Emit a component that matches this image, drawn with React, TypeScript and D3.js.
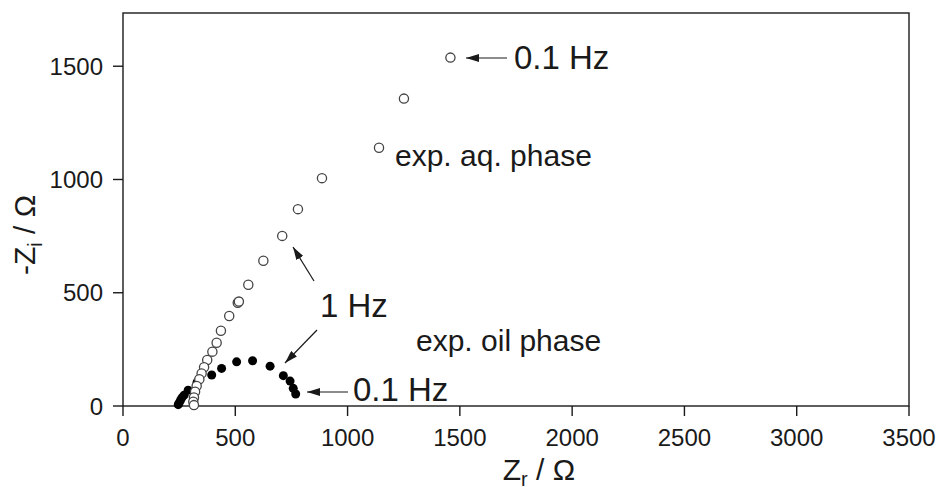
import React from 'react';
import * as d3 from 'd3';

const xTicks = [0, 500, 1000, 1500, 2000, 2500, 3000, 3500];
const yTicks = [0, 500, 1000, 1500];

// experimental aqueous phase (open circles)
const aqZr = [1458, 1251, 1140, 886, 779, 709, 625, 558, 511, 516, 473, 436, 417, 398, 375, 361, 350, 340, 328, 321, 316, 313, 316];
const aqZi = [1538, 1357, 1140, 1006, 869, 751, 641, 535, 456, 461, 397, 332, 279, 240, 203, 171, 144, 118, 88, 63, 38, 19, 4];

// experimental oil phase (filled circles)
const oilZr = [246, 250, 256, 262, 272, 290, 330, 395, 439, 506, 577, 655, 714, 744, 758, 769];
const oilZi = [6, 14, 25, 36, 48, 70, 105, 137, 166, 195, 200, 176, 134, 110, 78, 53];

const W = 939;
const H = 487;
const X0 = 123, X1 = 909, Y0 = 406, Y1 = 13;
const FONT = '"Liberation Sans", Arial, Helvetica, sans-serif';

export default function App() {
  const x = d3.scaleLinear().domain([0, 3500]).range([X0, X1]);
  const y = d3.scaleLinear().domain([0, 1735]).range([Y0, Y1]);
  const aq = aqZr.map((v, i) => [v, aqZi[i]]);
  const oil = oilZr.map((v, i) => [v, oilZi[i]]);
  const ink = '#1a1a1a';

  return (
    <svg width={W} height={H} style={{ position: 'absolute', left: 0, top: 0, background: '#fff' }} fontFamily={FONT}>
      <defs>
        <marker id="ah" markerWidth={13} markerHeight={8} refX={13} refY={4} orient="auto" markerUnits="userSpaceOnUse">
          <path d="M0,0 L13,4 L0,8 Z" fill={ink} />
        </marker>
      </defs>
      <rect x={0} y={0} width={W} height={H} fill="#fff" />
      {/* frame */}
      <rect x={X0} y={Y1} width={X1 - X0} height={Y0 - Y1} fill="none" stroke={ink} strokeWidth={1.4} />
      {/* x ticks */}
      {xTicks.map((t) => (
        <g key={'x' + t}>
          <line x1={x(t)} x2={x(t)} y1={Y0} y2={Y0 + 10} stroke={ink} strokeWidth={1.4} />
          <text x={x(t)} y={446} textAnchor="middle" fontSize={24} fill={ink}>{t}</text>
        </g>
      ))}
      {/* y ticks */}
      {yTicks.map((t) => (
        <g key={'y' + t}>
          <line x1={X0 - 10} x2={X0} y1={y(t)} y2={y(t)} stroke={ink} strokeWidth={1.4} />
          <text x={103} y={y(t) + 8.5} textAnchor="end" fontSize={24} fill={ink}>{t}</text>
        </g>
      ))}
      {/* axis titles */}
      <text x={539} y={480} textAnchor="middle" fontSize={30} fill={ink}>
        Z<tspan fontSize={20} dy={6}>r</tspan><tspan dy={-6}> / Ω</tspan>
      </text>
      <text transform="translate(35,235) rotate(-90)" textAnchor="middle" fontSize={30} fill={ink}>
        -Z<tspan fontSize={20} dy={7}>i</tspan><tspan dy={-7}> / Ω</tspan>
      </text>
      {/* oil phase: filled */}
      {oil.map((d, i) => (
        <circle key={'o' + i} cx={x(d[0])} cy={y(d[1])} r={4.5} fill="#000" />
      ))}
      {/* aqueous phase: open */}
      {aq.map((d, i) => (
        <circle key={'a' + i} cx={x(d[0])} cy={y(d[1])} r={4.6} fill="#fff" stroke="#444" strokeWidth={1.3} />
      ))}
      {/* annotations */}
      <line x1={507} y1={58} x2={466} y2={58} stroke={ink} strokeWidth={1.2} markerEnd="url(#ah)" />
      <text x={514} y={69} fontSize={33} fill={ink}>0.1 Hz</text>
      <text x={395} y={166} fontSize={30} fill={ink}>exp. aq. phase</text>
      <line x1={314} y1={281} x2={293} y2={247} stroke={ink} strokeWidth={1.2} markerEnd="url(#ah)" />
      <line x1={317} y1={330} x2={285} y2={363} stroke={ink} strokeWidth={1.2} markerEnd="url(#ah)" />
      <text x={320} y={317} fontSize={33} fill={ink}>1 Hz</text>
      <text x={416} y={351} fontSize={30} fill={ink}>exp. oil phase</text>
      <line x1={348} y1={392} x2={307} y2={392} stroke={ink} strokeWidth={1.2} markerEnd="url(#ah)" />
      <text x={353} y={401} fontSize={33} fill={ink}>0.1 Hz</text>
    </svg>
  );
}
